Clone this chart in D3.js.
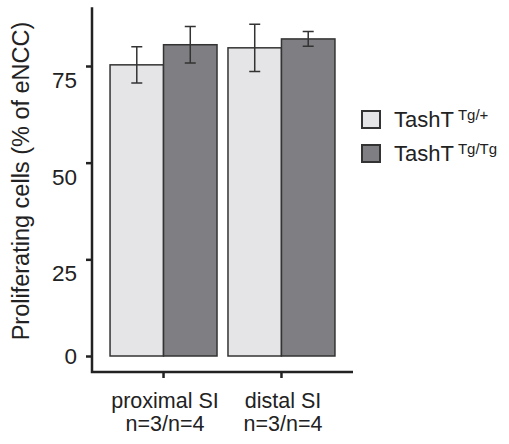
<!DOCTYPE html>
<html>
<head>
<meta charset="utf-8">
<script src="https://cdn.jsdelivr.net/npm/d3@7"></script>
<style>
  body { margin: 0; background: #fff; }
  text { font-family: "Liberation Sans", Arial, Helvetica, sans-serif; fill: #222; }
</style>
</head>
<body>
<div id="container"></div>
<script>
// data
let groups = ["proximal SI", "distal SI"];
let groupN = ["n=3/n=4", "n=3/n=4"];
let genotypes = ["Tg/+", "Tg/Tg"];
let meanTgPlus = [75.3, 79.7];
let errTgPlus = [4.7, 6.1];
let meanTgTg = [80.5, 82.0];
let errTgTg = [4.7, 1.9];
let yTicks = [0, 25, 50, 75];

let w = 509;
let h = 444;
let colors = ["#e5e5e7", "#7f7f83"];
let ink = "#222";

let viz = d3.select("#container")
  .append("svg")
  .attr("width", w)
  .attr("height", h);

let data = [];
groups.forEach(function(g, i) {
  data.push({group: g, geno: genotypes[0], mean: meanTgPlus[i], err: errTgPlus[i]});
  data.push({group: g, geno: genotypes[1], mean: meanTgTg[i], err: errTgTg[i]});
});

// scales
let yScale = d3.scaleLinear().domain([0, 75]).range([356, 66]);
let xScale = d3.scaleBand().domain(groups).range([104.5, 340.5])
  .paddingInner(0.093).paddingOuter(0.047);
let subScale = d3.scaleBand().domain(genotypes).range([0, xScale.bandwidth()]);
let colorScale = d3.scaleOrdinal().domain(genotypes).range(colors);

let axisLeftX = 92;
let axisBottomY = 372;

// bars
let barGroup = viz.append("g").attr("class", "bars");
barGroup.selectAll("rect").data(data).enter()
  .append("rect")
  .attr("x", function(d) { return xScale(d.group) + subScale(d.geno); })
  .attr("y", function(d) { return yScale(d.mean); })
  .attr("width", subScale.bandwidth())
  .attr("height", function(d) { return yScale(0) - yScale(d.mean); })
  .attr("fill", function(d) { return colorScale(d.geno); })
  .attr("stroke", "#333")
  .attr("stroke-width", 1.5);

// error bars
let capW = 5.5;
let errGroup = viz.append("g").attr("class", "errors")
  .attr("stroke", "#333").attr("stroke-width", 1.5).attr("fill", "none");
let cx = function(d) { return xScale(d.group) + subScale(d.geno) + subScale.bandwidth() / 2; };
errGroup.selectAll("path").data(data).enter()
  .append("path")
  .attr("d", function(d) {
    let x = cx(d), y1 = yScale(d.mean + d.err), y2 = yScale(d.mean - d.err);
    return "M" + (x - capW) + "," + y1 + "H" + (x + capW) +
           "M" + x + "," + y1 + "V" + y2 +
           "M" + (x - capW) + "," + y2 + "H" + (x + capW);
  });

// y axis
let yAxis = d3.axisLeft(yScale).tickValues(yTicks).tickSize(6).tickPadding(9);
let yAxisGroup = viz.append("g")
  .attr("class", "yaxisgroup")
  .attr("transform", "translate(" + axisLeftX + ",0)")
  .call(yAxis);
yAxisGroup.select(".domain").remove();
yAxisGroup.selectAll(".tick line").attr("stroke", ink).attr("stroke-width", 2.5);
yAxisGroup.selectAll(".tick text")
  .attr("font-size", 22.5)
  .attr("font-family", null)
  .attr("fill", ink)
  .attr("dy", function(d) { return d === 0 ? "0.32em" : "0.95em"; });

// x axis
let xAxis = d3.axisBottom(xScale).tickSize(6).tickFormat("");
let xAxisGroup = viz.append("g")
  .attr("class", "xaxisgroup")
  .attr("transform", "translate(0," + axisBottomY + ")")
  .call(xAxis);
xAxisGroup.select(".domain").remove();
xAxisGroup.selectAll(".tick line").attr("stroke", ink).attr("stroke-width", 2.5);

// axis lines forming an L
viz.append("path")
  .attr("d", "M" + axisLeftX + "," + yScale(90.2) + "V" + axisBottomY + "H353")
  .attr("fill", "none")
  .attr("stroke", ink)
  .attr("stroke-width", 2.5);

// x labels, two lines each
let xLabels = viz.append("g").attr("class", "xlabels");
groups.forEach(function(g, i) {
  let mid = xScale(g) + xScale.bandwidth() / 2 + 1.5;
  xLabels.append("text")
    .attr("text-anchor", "middle")
    .attr("font-size", 21.5)
    .attr("x", mid).attr("y", 408)
    .text(g);
  xLabels.append("text")
    .attr("text-anchor", "middle")
    .attr("font-size", 21.5)
    .attr("x", mid).attr("y", 431)
    .text(groupN[i]);
});

// y label
viz.append("text")
  .attr("transform", "translate(29," + 181 + ") rotate(-90)")
  .attr("text-anchor", "middle")
  .attr("font-size", 23.5)
  .text("Proliferating cells (% of eNCC)");

// legend
let legend = viz.append("g").attr("class", "legend");
genotypes.forEach(function(gt, i) {
  let yy = 111 + i * 34;
  legend.append("rect")
    .attr("x", 362).attr("y", yy)
    .attr("width", 18).attr("height", 17)
    .attr("fill", colorScale(gt))
    .attr("stroke", "#333").attr("stroke-width", 2);
  let t = legend.append("text")
    .attr("x", 394).attr("y", yy + 16)
    .attr("font-size", 22);
  t.append("tspan").text("TashT");
  t.append("tspan").attr("font-size", 15).attr("dx", 4).attr("dy", -7).text(gt);
});
</script>
</body>
</html>
